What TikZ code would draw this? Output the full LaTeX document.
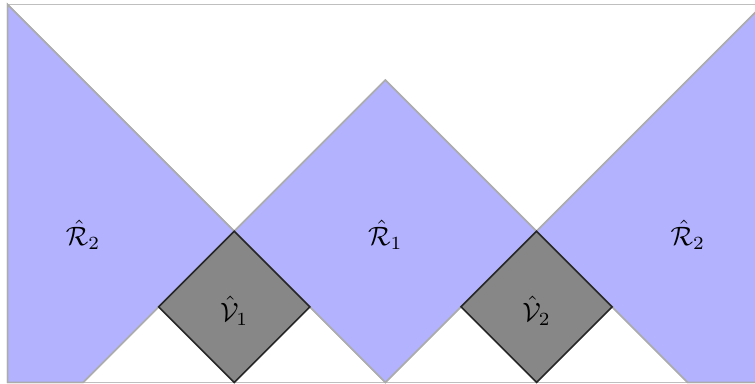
\documentclass[tikz,border=0pt]{standalone}
\begin{document}
\begin{tikzpicture}[x=1cm,y=1cm,
  region/.style={fill=blue!30,draw=gray!65,line width=0.6pt},
  vbox/.style={fill=black!47,draw=black!85,line width=0.6pt},
  frame/.style={draw=gray!50,line width=0.6pt}]
\useasboundingbox (-3.1,-2.01) rectangle (6.89,3.06);
\draw[frame] (-3,-2) rectangle (7,3);
\fill[region] (-3,3) -- (0,0) -- (-1,-1) -- (-2,-2) -- (-3,-2) -- cycle;
\fill[region] (0,0) -- (2,2) -- (4,0) -- (3,-1) -- (2,-2) -- (1,-1) -- cycle;
\fill[region] (4,0) -- (7,3) -- (7,-2) -- (6,-2) -- (5,-1) -- cycle;
\draw[region] (-3,3) -- (0,0) -- (-1,-1) -- (-2,-2) -- (-3,-2) -- cycle;
\draw[region] (0,0) -- (2,2) -- (4,0) -- (3,-1) -- (2,-2) -- (1,-1) -- cycle;
\draw[region] (4,0) -- (7,3) -- (7,-2) -- (6,-2) -- (5,-1) -- cycle;
\draw[vbox] (0,0) -- (1,-1) -- (0,-2) -- (-1,-1) -- cycle;
\draw[vbox] (4,0) -- (5,-1) -- (4,-2) -- (3,-1) -- cycle;
\node (r2l) at (-2,-0.05) {$\hat{\mathcal{R}}_2$};
\node (r1) at (2,-0.05) {$\hat{\mathcal{R}}_1$};
\node (r2r) at (6,-0.05) {$\hat{\mathcal{R}}_2$};
\node (v1) at (0,-1.05) {$\hat{\mathcal{V}}_1$};
\node (v2) at (4,-1.05) {$\hat{\mathcal{V}}_2$};
\end{tikzpicture}
\end{document}
